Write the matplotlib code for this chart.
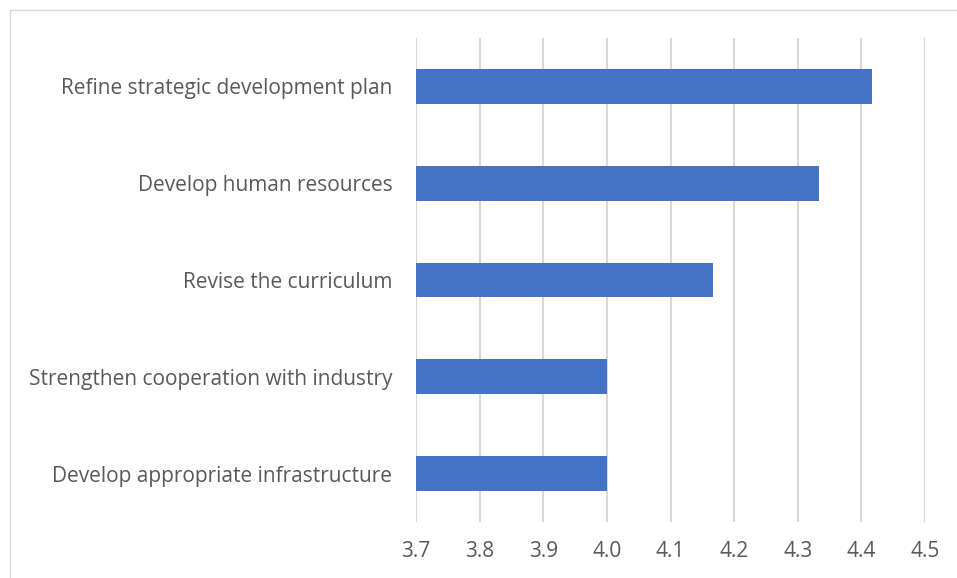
import matplotlib
matplotlib.use("Agg")
import matplotlib.pyplot as plt
from matplotlib.lines import Line2D

categories = [
    "Refine strategic development plan",
    "Develop human resources",
    "Revise the curriculum",
    "Strengthen cooperation with industry",
    "Develop appropriate infrastructure",
]
values = [4.417, 4.333, 4.167, 4.0, 4.0]
xticks = [3.7, 3.8, 3.9, 4.0, 4.1, 4.2, 4.3, 4.4, 4.5]

plt.rcParams['font.family'] = ['Open Sans', 'DejaVu Sans']

W, H = 957, 578
fig = plt.figure(figsize=(W / 100, H / 100), dpi=100)
ax = fig.add_axes([416 / W, 1 - 522 / H, (925 - 416) / W, (522 - 38) / H])

ypos = list(range(len(categories)))
ax.barh(ypos, [v - xticks[0] for v in values], left=xticks[0], height=0.36,
        color="#4472C4", zorder=3)
ax.set_ylim(len(categories) - 0.5, -0.5)
ax.set_xlim(xticks[0], xticks[-1])
ax.set_xticks(xticks)
ax.set_xticklabels([f"{t:.1f}" for t in xticks])
ax.set_yticks(ypos)
ax.set_yticklabels(categories)
ax.grid(axis="x", color="#D9D9D9", linewidth=1.5, zorder=0)
for s in ax.spines.values():
    s.set_visible(False)
ax.tick_params(axis="both", length=0, labelsize=15, colors="#595959")
ax.tick_params(axis="x", pad=14)
ax.tick_params(axis="y", pad=17)

# outer chart border (top and left visible)
fig.add_artist(Line2D([9.5 / W, 1.0], [1 - 9.5 / H, 1 - 9.5 / H],
                      transform=fig.transFigure, color="#D9D9D9", linewidth=1))
fig.add_artist(Line2D([9.5 / W, 9.5 / W], [0.0, 1 - 9.5 / H],
                      transform=fig.transFigure, color="#D9D9D9", linewidth=1))

fig.savefig("out.png", dpi=100, facecolor="white")
